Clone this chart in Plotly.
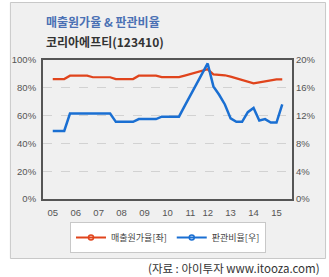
import plotly.graph_objects as go

# quarter index (0 = 2005 label position)
quarter_idx = list(range(41))
cost_ratio = [86.3, 86.3, 86.3, 88.7, 88.7, 88.7, 88.7, 87.6, 87.6, 87.6, 87.6,
              86.3, 86.3, 86.3, 86.3, 88.7, 88.7, 88.7, 88.7, 87.7, 87.7, 87.7, 87.7,
              88.8, 89.9, 91.0, 92.2, 93.3, 89.7, 89.6, 89.0, 88.0, 86.8, 85.6, 84.4,
              83.2, 83.9, 84.6, 85.4, 86.1, 86.1]
sga_ratio = [9.8, 9.8, 9.8, 12.3, 12.3, 12.3, 12.3, 12.3, 12.3, 12.3, 12.3,
             11.1, 11.1, 11.1, 11.1, 11.5, 11.5, 11.5, 11.5, 11.85, 11.85, 11.85, 11.85,
             13.4, 14.9, 16.4, 18.0, 19.5, 16.2, 15.0, 13.6, 11.6, 11.1, 11.1, 12.5,
             13.1, 11.3, 11.5, 11.0, 11.0, 13.6]
tick_idx = [0, 4, 8, 12, 16, 20, 24, 27, 31, 35, 39]
tick_labels = ["05", "06", "07", "08", "09", "10", "11", "12", "13", "14", "15"]

RED = "#e0441c"
BLUE = "#1a6fd2"
L, R, T, B = 36, 292, 60, 199
W, H = 329, 277

def px(x):
    return (x - L) / (R - L)

def py(y):
    return (B - y) / (B - T)

fig = go.Figure()
fig.add_trace(go.Scatter(x=quarter_idx, y=cost_ratio, mode="lines",
                         line=dict(color=RED, width=2.2), showlegend=False, yaxis="y"))
fig.add_trace(go.Scatter(x=quarter_idx, y=sga_ratio, mode="lines",
                         line=dict(color=BLUE, width=2.5), showlegend=False, yaxis="y2"))
fig.add_trace(go.Scatter(x=[None], y=[None], mode="lines+markers", name="매출원가율[좌]",
                         line=dict(color=RED, width=2),
                         marker=dict(symbol="circle-open", size=5, color=RED, line=dict(width=1.5))))
fig.add_trace(go.Scatter(x=[None], y=[None], mode="lines+markers", name="판관비율[우]",
                         line=dict(color=BLUE, width=2),
                         marker=dict(symbol="circle-open", size=5, color=BLUE, line=dict(width=1.5))))

shapes = [
    dict(type="rect", xref="paper", yref="paper", x0=px(2.5), x1=px(326.5), y0=py(258.5), y1=py(2.5),
         fillcolor="#f0f0f0", line=dict(color="#c8c8c8", width=1), layer="below"),
]
for lo, hi in [(20, 40), (60, 80)]:
    shapes.append(dict(type="rect", xref="paper", yref="y", x0=0, x1=1, y0=lo, y1=hi,
                       fillcolor="#f0f0f0", line=dict(width=0), layer="below"))

tickfont = dict(family="Liberation Sans, Arial, sans-serif", size=9.5, color="#555555")

fig.update_layout(
    width=W, height=H,
    margin=dict(l=L, r=W - R, t=T, b=H - B, pad=0),
    paper_bgcolor="white", plot_bgcolor="white",
    shapes=shapes,
    xaxis=dict(range=[-1.7, 41.7], tickmode="array", tickvals=tick_idx, ticktext=tick_labels,
               showgrid=False, zeroline=False, showline=True, mirror=True,
               linecolor="#555555", linewidth=2, ticks="", tickfont=tickfont, ticklabelstandoff=4),
    yaxis=dict(range=[0, 100], dtick=20, ticksuffix="%", showgrid=True, gridcolor="#d2d2d2",
               griddash="dash", gridwidth=1, zeroline=False, showline=True, mirror=True,
               linecolor="#555555", linewidth=2, ticks="", tickfont=tickfont, ticklabelstandoff=3),
    yaxis2=dict(range=[0, 20], dtick=4, ticksuffix="%", overlaying="y", side="right",
                showgrid=False, zeroline=False, showline=False, ticks="", tickfont=tickfont,
                ticklabelstandoff=3),
    legend=dict(orientation="h", x=px(164.5), xanchor="center", y=py(222), yanchor="top",
                bgcolor="white", bordercolor="#c8c8c8", borderwidth=1,
                font=dict(family="Noto Sans CJK KR", size=9, color="#444444"),
                itemwidth=30, tracegroupgap=0),
    annotations=[
        dict(text="<b>매출원가율 & 판관비율</b>", xref="paper", yref="paper", x=px(37), y=py(22),
             xanchor="left", yanchor="middle", showarrow=False,
             font=dict(family="Noto Sans CJK KR", size=12, color="#4a70b4")),
        dict(text="<b>코리아에프티(123410)</b>", xref="paper", yref="paper", x=px(37), y=py(42),
             xanchor="left", yanchor="middle", showarrow=False,
             font=dict(family="Noto Sans CJK KR", size=12, color="#333333")),
        dict(text="(자료 : 아이투자 www.itooza.com)", xref="paper", yref="paper", x=px(323), y=py(268),
             xanchor="right", yanchor="middle", showarrow=False,
             font=dict(family="Noto Sans CJK KR", size=11.5, color="#333333")),
    ],
)

fig.write_html("out.html")
